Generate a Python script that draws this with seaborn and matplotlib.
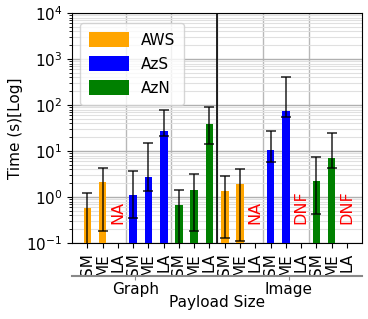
import numpy as np
import pandas as pd
import matplotlib
matplotlib.use('Agg')
import matplotlib.pyplot as plt
import seaborn as sns

# data (seconds, log axis)
groups = ['Graph', 'Image']
providers = ['AWS', 'AzS', 'AzN']
sizes = ['SM', 'ME', 'LA']
colors = {'AWS': 'orange', 'AzS': 'blue', 'AzN': 'green'}

graph_mean = {'AWS': [0.59, 2.09, np.nan], 'AzS': [1.1, 2.8, 28], 'AzN': [0.67, 1.45, 38]}
graph_low = {'AWS': [0.05, 0.186, np.nan], 'AzS': [0.35, 1.38, 21], 'AzN': [0.05, 0.186, 14.5]}
graph_high = {'AWS': [1.22, 4.35, np.nan], 'AzS': [3.67, 14.8, 79], 'AzN': [1.45, 3.2, 90]}

image_mean = {'AWS': [1.38, 1.95, np.nan], 'AzS': [10.3, 74, np.nan], 'AzN': [2.2, 6.9, np.nan]}
image_low = {'AWS': [0.13, 0.11, np.nan], 'AzS': [5.9, 55, np.nan], 'AzN': [0.43, 4.2, np.nan]}
image_high = {'AWS': [2.9, 4.1, np.nan], 'AzS': [28, 405, np.nan], 'AzN': [7.4, 24.6, np.nan]}

# missing bars: (group, provider, size, note)
notes = [('Graph', 'AWS', 'LA', 'NA'), ('Image', 'AWS', 'LA', 'NA'),
         ('Image', 'AzS', 'LA', 'DNF'), ('Image', 'AzN', 'LA', 'DNF')]

rows = []
for g, m, lo, hi in [('Graph', graph_mean, graph_low, graph_high),
                     ('Image', image_mean, image_low, image_high)]:
    for p in providers:
        for i, s in enumerate(sizes):
            rows.append({'key': g + '-' + p + '-' + s, 'group': g, 'provider': p,
                         'size': s, 'time': m[p][i], 'low': lo[p][i], 'high': hi[p][i]})
df = pd.DataFrame(rows)
order = list(df['key'])

plt.rcParams['font.family'] = ['DejaVu Sans']
fig, ax = plt.subplots(figsize=(3.68, 3.19), dpi=100)
fig.subplots_adjust(left=0.196, right=0.984, top=0.959, bottom=0.238)

sns.barplot(data=df, x='key', y='time', hue='provider', order=order,
            hue_order=providers, palette=colors, dodge=False, width=0.5,
            saturation=1, errorbar=None, ax=ax, zorder=3)

# asymmetric error bars
pos = np.arange(len(df))
ok = df['time'].notna().values
yerr = np.vstack([df['time'] - df['low'], df['high'] - df['time']])[:, ok]
ax.errorbar(pos[ok], df['time'][ok], yerr=yerr, fmt='none', ecolor='black',
            elinewidth=1.2, capsize=3.3, capthick=1.2, alpha=0.8, zorder=4)

for g, p, s, txt in notes:
    x = order.index(g + '-' + p + '-' + s)
    ax.text(x, 0.26, txt, color='red', rotation=90, ha='center', va='bottom',
            fontsize=11.5, zorder=5)

ax.set_yscale('log')
ax.set_ylim(0.1, 1e4)
ax.set_xlim(-1, 18)
ax.set_xticks(pos)
ax.set_xticklabels(df['size'], rotation=90, fontsize=11)
ax.tick_params(axis='y', labelsize=11)
ax.set_xticks(np.arange(2.5, 17, 3), minor=True)
ax.tick_params(axis='x', which='minor', length=0)
ax.grid(True, which='major', axis='y', color='#b0b0b0', lw=1, zorder=0)
ax.grid(True, which='minor', axis='y', color='#e0e0e0', lw=0.8, zorder=0)
ax.grid(True, which='minor', axis='x', color='#b8b8b8', lw=1, zorder=0)
ax.axvline(8.5, color='black', lw=1.2, zorder=2)
ax.set_ylabel('Time (s)[Log]', fontsize=11, labelpad=2)
ax.set_xlabel('Payload Size', fontsize=11)
ax.xaxis.set_label_coords(0.5, -0.225)

ax.legend(loc='upper left', fontsize=11, handlelength=2.6, handleheight=1.1,
          labelspacing=0.55, borderpad=0.6, framealpha=0.8,
          bbox_to_anchor=(0.0, 0.99))

# second level axis with group names
ax2 = ax.twiny()
ax2.set_xlim(ax.get_xlim())
ax2.xaxis.set_ticks_position('bottom')
ax2.xaxis.set_label_position('bottom')
ax2.spines['bottom'].set_position(('outward', 24))
ax2.spines['bottom'].set_color('#888888')
ax2.spines['bottom'].set_linewidth(1.5)
for sp in ['top', 'left', 'right']:
    ax2.spines[sp].set_visible(False)
ax2.set_xticks([3.15, 13.2])
ax2.set_xticklabels(groups, fontsize=11)
ax2.tick_params(axis='x', length=3, color='#888888', pad=1)

fig.savefig('out.png', dpi=100)
